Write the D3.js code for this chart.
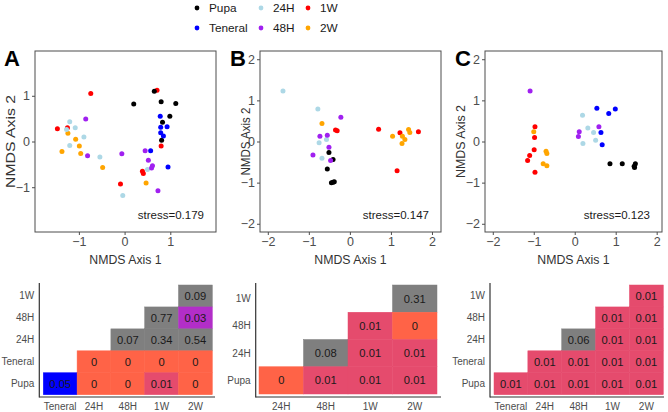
<!DOCTYPE html>
<html>
<head>
<meta charset="utf-8">
<script src="https://cdn.jsdelivr.net/npm/d3@7"></script>
<style>
  html, body { margin: 0; padding: 0; background: #ffffff; }
  svg { display: block; font-family: "Liberation Sans", Arial, sans-serif; }
</style>
</head>
<body>
<svg id="chart" width="668" height="412"></svg>
<script>
// ---------------- DATA ----------------
const groups = ["Pupa", "Teneral", "24H", "48H", "1W", "2W"];
const groupColors = ["#000000", "#0000ff", "#add8e6", "#a020f0", "#ff0000", "#ffa500"];
const drawOrder = ["1W", "2W", "Pupa", "Teneral", "24H", "48H"];

// NMDS scores: [group, axis1, axis2]
const scoresA = [
  ["1W", -0.74, 1.05], ["1W", 0.71, 1.12], ["1W", -1.47, 0.28], ["1W", -1.25, 0.30],
  ["1W", 0.80, -0.10], ["1W", 0.39, -0.65], ["1W", 0.41, -0.70], ["1W", -0.09, -0.93],
  ["Pupa", 0.65, 1.10], ["Pupa", 0.20, 0.82], ["Pupa", 0.80, 0.87], ["Pupa", 1.12, 0.83],
  ["Pupa", 0.99, 0.55], ["Pupa", 0.83, 0.42], ["Pupa", 0.81, 0.03],
  ["Teneral", 0.78, 0.55], ["Teneral", 0.93, 0.32], ["Teneral", 0.79, 0.31], ["Teneral", 0.79, 0.19],
  ["Teneral", 0.85, 0.12], ["Teneral", 0.57, -0.20], ["Teneral", 0.95, -0.56],
  ["24H", -1.20, 0.43], ["24H", -1.27, 0.26], ["24H", -1.08, 0.30], ["24H", -0.89, 0.10],
  ["24H", -1.20, -0.09], ["24H", -0.54, -0.34], ["24H", 0.50, -0.61], ["24H", -0.04, -1.18],
  ["48H", -0.85, 0.49], ["48H", -0.81, -0.31], ["48H", -0.06, -0.27], ["48H", 0.45, -0.20],
  ["48H", 0.52, -0.41], ["48H", 0.61, -0.53], ["48H", 0.59, -0.58], ["48H", 0.73, -1.08],
  ["2W", -1.24, 0.18], ["2W", -1.07, 0.05], ["2W", -0.99, -0.10], ["2W", -1.37, -0.22],
  ["2W", -0.96, -0.26], ["2W", -0.48, -0.57], ["2W", 0.47, -0.91]
];
const scoresB = [
  ["24H", -1.63, 1.23], ["24H", -0.78, 0.79], ["24H", -0.75, -0.03], ["24H", -0.57, 0.05], ["24H", -0.68, -0.41],
  ["2W", -0.68, 0.44], ["2W", 1.04, 0.13], ["2W", 1.43, 0.29], ["2W", 1.46, 0.22], ["2W", 1.28, 0.13],
  ["2W", 1.34, 0.05], ["2W", 1.27, -0.05],
  ["1W", -0.35, 0.28], ["1W", -0.31, 0.26], ["1W", 0.70, 0.30], ["1W", 1.22, 0.21], ["1W", 1.67, 0.24], ["1W", 1.15, -0.71],
  ["48H", -0.22, 0.59], ["48H", -0.73, 0.13], ["48H", -0.55, 0.15], ["48H", -0.51, -0.14],
  ["48H", -0.90, -0.33], ["48H", -0.47, -0.46],
  ["Pupa", -0.51, -0.27], ["Pupa", -0.41, -0.44], ["Pupa", -0.55, -0.67], ["Pupa", -0.45, -1.00],
  ["Pupa", -0.38, -0.98], ["Pupa", -0.41, -0.99]
];
const scoresC = [
  ["48H", -1.09, 1.23], ["48H", 0.11, 0.24], ["48H", 0.09, 0.12], ["48H", 0.59, 0.36],
  ["1W", -0.97, 0.36], ["1W", -0.98, 0.10], ["1W", -0.99, -0.20], ["1W", -1.10, -0.34],
  ["1W", -1.15, -0.46], ["1W", -0.97, -0.75],
  ["2W", -1.00, 0.24], ["2W", -0.70, -0.24], ["2W", -0.68, -0.29], ["2W", -0.77, -0.54], ["2W", -0.68, -0.59],
  ["24H", 0.19, 0.64], ["24H", 0.32, 0.33], ["24H", 0.46, 0.22], ["24H", 0.20, -0.05], ["24H", 0.51, 0.03],
  ["Teneral", 0.54, 0.81], ["Teneral", 0.83, 0.68], ["Teneral", 0.99, 0.79], ["Teneral", 0.64, 0.22], ["Teneral", 0.67, -0.08],
  ["Pupa", 0.86, -0.54], ["Pupa", 1.16, -0.54], ["Pupa", 1.45, -0.60], ["Pupa", 1.48, -0.54], ["Pupa", 1.46, -0.63]
];
const stressValues = ["stress=0.179", "stress=0.147", "stress=0.123"];
const ticksA = [-1, 0, 1];
const ticksBC = [-2, -1, 0, 1, 2];

// pairwise p-values: [row, column, p]
const rowsA = ["1W", "48H", "24H", "Teneral", "Pupa"];
const colsA = ["Teneral", "24H", "48H", "1W", "2W"];
const pvalA = [
  ["1W", "2W", 0.09],
  ["48H", "1W", 0.77], ["48H", "2W", 0.03],
  ["24H", "48H", 0.07], ["24H", "1W", 0.34], ["24H", "2W", 0.54],
  ["Teneral", "24H", 0], ["Teneral", "48H", 0], ["Teneral", "1W", 0], ["Teneral", "2W", 0],
  ["Pupa", "Teneral", 0.05], ["Pupa", "24H", 0], ["Pupa", "48H", 0], ["Pupa", "1W", 0.01], ["Pupa", "2W", 0]
];
const rowsB = ["1W", "48H", "24H", "Pupa"];
const colsB = ["24H", "48H", "1W", "2W"];
const pvalB = [
  ["1W", "2W", 0.31],
  ["48H", "1W", 0.01], ["48H", "2W", 0],
  ["24H", "48H", 0.08], ["24H", "1W", 0.01], ["24H", "2W", 0.01],
  ["Pupa", "24H", 0], ["Pupa", "48H", 0.01], ["Pupa", "1W", 0.01], ["Pupa", "2W", 0.01]
];
const rowsC = ["1W", "48H", "24H", "Teneral", "Pupa"];
const colsC = ["Teneral", "24H", "48H", "1W", "2W"];
const pvalC = [
  ["1W", "2W", 0.01],
  ["48H", "1W", 0.01], ["48H", "2W", 0.01],
  ["24H", "48H", 0.06], ["24H", "1W", 0.01], ["24H", "2W", 0.01],
  ["Teneral", "24H", 0.01], ["Teneral", "48H", 0.01], ["Teneral", "1W", 0.01], ["Teneral", "2W", 0.01],
  ["Pupa", "Teneral", 0.01], ["Pupa", "24H", 0.01], ["Pupa", "48H", 0.01], ["Pupa", "1W", 0.01], ["Pupa", "2W", 0.01]
];

// ---------------- DRAWING ----------------
const svg = d3.select("#chart");
const color = d3.scaleOrdinal().domain(groups).range(groupColors);
const pColor = d3.scaleLinear().domain([0, 0.01, 0.03, 0.05])
  .range(["#ff6347", "#e54b6d", "#b22ec8", "#0000ff"]);
const cellColor = p => p > 0.05 ? "#7f7f7f" : pColor(p);

// Legend
const legCols = [[0, 1], [2, 3], [4, 5]];
const legX = [197, 261, 308];
const legY = [8, 28];
legCols.forEach((pair, ci) => {
  pair.forEach((gi, ri) => {
    svg.append("circle").attr("cx", legX[ci]).attr("cy", legY[ri]).attr("r", 2.4)
      .attr("fill", groupColors[gi]);
    svg.append("text").attr("x", legX[ci] + 12).attr("y", legY[ri]).attr("dy", "0.35em")
      .attr("font-size", 11.8).attr("fill", "#1a1a1a").text(groups[gi]);
  });
});

function scatter(cfg) {
  const x = d3.scaleLinear().domain(cfg.xd).range([cfg.x0, cfg.x1]);
  const y = d3.scaleLinear().domain(cfg.yd).range([cfg.y1, cfg.y0]);
  const g = svg.append("g");
  g.append("rect").attr("x", cfg.x0).attr("y", cfg.y0)
    .attr("width", cfg.x1 - cfg.x0).attr("height", cfg.y1 - cfg.y0)
    .attr("fill", "#fff").attr("stroke", "#4d4d4d").attr("stroke-width", 1);
  const xa = g.append("g").attr("transform", `translate(0,${cfg.y1})`)
    .call(d3.axisBottom(x).tickValues(cfg.ticks).tickSize(3).tickPadding(2).tickFormat(d3.format("d")));
  const ya = g.append("g").attr("transform", `translate(${cfg.x0},0)`)
    .call(d3.axisLeft(y).tickValues(cfg.ticks).tickSize(3).tickPadding(2).tickFormat(d3.format("d")));
  [xa, ya].forEach(a => {
    a.select(".domain").remove();
    a.selectAll(".tick line").attr("stroke", "#4d4d4d");
    a.selectAll(".tick text").attr("font-size", 12.5).attr("fill", "#4d4d4d")
      .attr("font-family", "Liberation Sans, Arial, sans-serif");
  });
  const pts = cfg.data.slice().sort((a, b) => drawOrder.indexOf(a[0]) - drawOrder.indexOf(b[0]));
  g.selectAll("circle.pt").data(pts).join("circle").attr("class", "pt")
    .attr("cx", d => x(d[1])).attr("cy", d => y(d[2])).attr("r", 2.5)
    .attr("fill", d => color(d[0]));
  g.append("text").attr("x", cfg.x1 - 12).attr("y", cfg.y1 - 13).attr("text-anchor", "end")
    .attr("font-size", 11.5).attr("fill", "#1a1a1a").text(cfg.stress);
  g.append("text").attr("x", (cfg.x0 + cfg.x1) / 2).attr("y", 264).attr("text-anchor", "middle")
    .attr("font-size", 12.3).attr("fill", "#333").text("NMDS Axis 1");
  g.append("text").attr("transform", `translate(${cfg.ytx},${(cfg.y0 + cfg.y1) / 2}) rotate(-90)`)
    .attr("text-anchor", "middle").attr("font-size", 13).attr("fill", "#333")
    .attr("textLength", cfg.ylen).attr("lengthAdjust", "spacingAndGlyphs").text("NMDS Axis 2");
  g.append("text").attr("x", cfg.lx).attr("y", 66).attr("font-size", 22).attr("font-weight", "bold")
    .attr("fill", "#000").text(cfg.label);
}

scatter({ x0: 35, x1: 216, y0: 51, y1: 232, xd: [-1.96, 2.0], yd: [-1.98, 1.98], ticks: ticksA,
  data: scoresA, stress: stressValues[0], ytx: 15, ylen: 93, lx: 4, label: "A" });
scatter({ x0: 260, x1: 441, y0: 51, y1: 232, xd: [-2.19, 2.22], yd: [-2.2, 2.2], ticks: ticksBC,
  data: scoresB, stress: stressValues[1], ytx: 250, ylen: 68, lx: 230, label: "B" });
scatter({ x0: 485, x1: 662, y0: 51, y1: 232, xd: [-2.19, 2.13], yd: [-2.2, 2.2], ticks: ticksBC,
  data: scoresC, stress: stressValues[2], ytx: 465, ylen: 73, lx: 455, label: "C" });

function heat(cfg) {
  const x = d3.scaleBand().domain(cfg.cols).range([cfg.cx0, cfg.cx1]).padding(0);
  const y = d3.scaleBand().domain(cfg.rows).range([cfg.cy0, cfg.cy1]).padding(0);
  const g = svg.append("g");
  g.selectAll("rect").data(cfg.data).join("rect")
    .attr("x", d => x(d[1])).attr("y", d => y(d[0]))
    .attr("width", x.bandwidth()).attr("height", y.bandwidth())
    .attr("fill", d => cellColor(d[2])).attr("stroke", d => cellColor(d[2])).attr("stroke-width", 0.5);
  g.selectAll("text.v").data(cfg.data).join("text").attr("class", "v")
    .attr("x", d => x(d[1]) + x.bandwidth() / 2).attr("y", d => y(d[0]) + y.bandwidth() / 2)
    .attr("dy", "0.36em").attr("text-anchor", "middle").attr("font-size", 11.2)
    .attr("fill", "#1a1a1a").text(d => String(d[2]));
  // axis lines
  g.append("line").attr("x1", cfg.ax).attr("x2", cfg.ax).attr("y1", 283).attr("y2", 397.5)
    .attr("stroke", "#333").attr("stroke-width", 1.2);
  g.append("line").attr("x1", cfg.ax).attr("x2", cfg.axEnd).attr("y1", 397).attr("y2", 397)
    .attr("stroke", "#333").attr("stroke-width", 1.2);
  g.selectAll("text.yl").data(cfg.rows).join("text").attr("class", "yl")
    .attr("x", cfg.ax - 5).attr("y", d => y(d) + y.bandwidth() / 2).attr("dy", "0.35em")
    .attr("text-anchor", "end").attr("font-size", 10).attr("fill", "#4d4d4d").text(d => d);
  g.selectAll("text.xl").data(cfg.cols).join("text").attr("class", "xl")
    .attr("x", d => x(d) + x.bandwidth() / 2).attr("y", 410)
    .attr("text-anchor", "middle").attr("font-size", 10).attr("fill", "#4d4d4d").text(d => d);
}

heat({ rows: rowsA, cols: colsA, data: pvalA, cx0: 43.3, cx1: 212.3, cy0: 285, cy1: 394.7, ax: 39.3, axEnd: 215 });
heat({ rows: rowsB, cols: colsB, data: pvalB, cx0: 259, cx1: 437, cy0: 285, cy1: 394, ax: 255.7, axEnd: 441 });
heat({ rows: rowsC, cols: colsC, data: pvalC, cx0: 494, cx1: 663.3, cy0: 285, cy1: 394.7, ax: 490, axEnd: 664 });
</script>
</body>
</html>
